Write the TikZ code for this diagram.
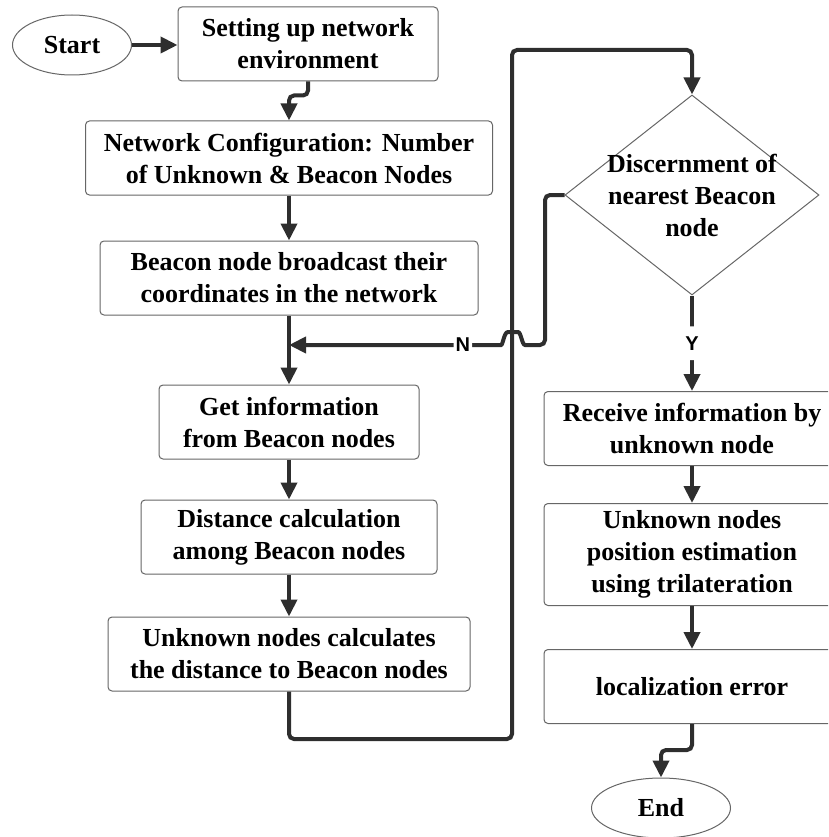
\documentclass[tikz,border=0pt]{standalone}
\usepackage{fontspec}
\setmainfont{Liberation Serif}
\setsansfont{Liberation Sans}
\usetikzlibrary{arrows.meta}
\usetikzlibrary{positioning}
\usetikzlibrary{shapes.geometric}

\begin{document}
\begin{tikzpicture}[x=1pt,y=-1pt,>={Triangle[length=17pt,width=16pt]},
  proc/.style={draw=black!60,line width=1pt,fill=white,rounded corners=4pt,minimum height=74pt,align=center,inner sep=4pt,font=\fontsize{26}{32}\selectfont\bfseries},
  term/.style={ellipse,draw=black!60,line width=1pt,fill=white,minimum height=60pt,inner sep=0pt,font=\fontsize{26}{32}\selectfont\bfseries},
  decision/.style={diamond,draw=black!60,line width=1pt,minimum width=254pt,minimum height=200pt,aspect=1.27,inner sep=0pt},
  flow/.style={->,draw=black!82,line width=4pt,rounded corners=5pt},
  lbl/.style={fill=white,inner sep=2pt,font=\sffamily\bfseries\fontsize{20}{20}\selectfont}]
\clip (0,0) rectangle (828,837);

% left column
\node[term,minimum width=119pt] (start) at (72,45) {Start};
\node[proc,minimum width=260pt] (setup) at (308,44) {Setting up network\\environment};
\node[proc,minimum width=407pt] (config) at (289,158) {Network Configuration: Number\\of Unknown \& Beacon Nodes};
\node[proc,minimum width=378pt] (bcast) [below = 45pt of config] {Beacon node broadcast their\\coordinates in the network};
\node[proc,minimum width=260pt] (getinfo) [below = 69pt of bcast] {Get information\\from Beacon nodes};
\node[proc,minimum width=296pt] (dist) [below = 40pt of getinfo] {Distance calculation\\among Beacon nodes};
\node[proc,minimum width=362pt] (calc) [below = 42pt of dist] {Unknown nodes calculates\\the distance to Beacon nodes};

% right column
\node[decision] (discern) at (692,195) {};
\node[font=\fontsize{26}{32}\selectfont\bfseries,align=center] (discerntxt) at (discern.center) {Discernment of\\nearest Beacon\\node};
\node[proc,minimum width=296pt] (receive) at (692,428.5) {Receive information by\\unknown node};
\node[proc,minimum width=296pt,minimum height=102pt] (estim) [below = 37pt of receive] {Unknown nodes\\position estimation\\using trilateration};
\node[proc,minimum width=296pt] (locerr) [below = 43pt of estim] {localization error};
\node[term,minimum width=139pt] (end) at (661,808) {End};

\coordinate (join) at (289,345);
\coordinate (loopbot) at (512,739);
\coordinate (looptop) at (512,50);

\draw[flow] (start.east) -- (start.east -| setup.west);
\draw[flow] (setup.south) -- ++(0,14) -| (config.north);
\draw[flow] (config) -- (bcast);
\draw[flow] (bcast) -- (getinfo);
\draw[flow] (getinfo) -- (dist);
\draw[flow] (dist) -- (calc);

\draw[flow] (calc.south) |- (loopbot) -- (looptop) -| (discern.north);

\draw[flow] (discern.west) -| (545,345) -- (530,345)
  .. controls (522,345) and (521,332) .. (513,332)
  .. controls (504,332) and (503,345) .. (496,345)
  -- node[lbl,pos=0.16] {N} (join);

\draw[flow] (discern.south) -- node[lbl,inner ysep=10pt] {Y} (receive.north);
\draw[flow] (receive) -- (estim);
\draw[flow] (estim) -- (locerr);
\draw[flow] (locerr.south) -- ++(0,26) -| (end.north);
\end{tikzpicture}
\end{document}
